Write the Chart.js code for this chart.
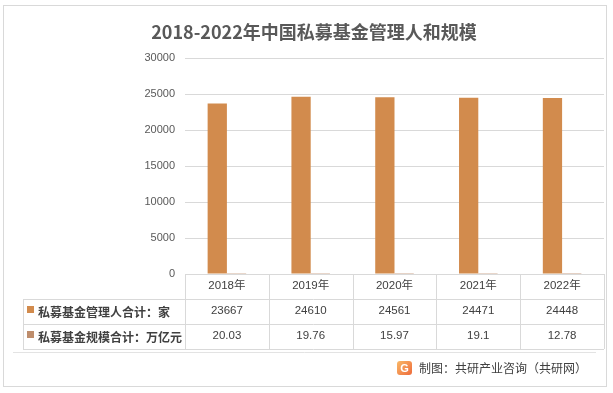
<!DOCTYPE html>
<html>
<head>
<meta charset="utf-8">
<script src="https://cdn.jsdelivr.net/npm/chart.js@4"></script>
<style>
    body { margin: 0; background: #fff; }
    canvas { display: block; }
</style>
</head>
<body>
<canvas id="chart" width="613" height="393"></canvas>
<script>
const years = ["2018年", "2019年", "2020年", "2021年", "2022年"];
const managers = [23667, 24610, 24561, 24471, 24448];
const scale = [20.03, 19.76, 15.97, 19.1, 12.78];
const seriesNames = ["私募基金管理人合计：家", "私募基金规模合计：万亿元"];
const seriesColors = ["#D28B4D", "#BE8D6C"];
const yTicks = [0, 5000, 10000, 15000, 20000, 25000, 30000];

const CJK = '"Noto Sans CJK SC", sans-serif';
const NUM = '"Liberation Sans", "Noto Sans CJK SC", sans-serif';

// data table under the plot + frame + footer
const tablePlugin = {
    id: "dataTable",
    afterDraw(chart) {
        const ctx = chart.ctx;
        const area = chart.chartArea;
        const x = chart.scales.x;
        const n = years.length;
        const w = (area.right - area.left) / n;
        const rows = [area.bottom, area.bottom + 24.5, area.bottom + 49.5, area.bottom + 75];
        const tableLeft = 23;

        ctx.save();
        ctx.strokeStyle = "#d9d9d9";
        ctx.lineWidth = 1;
        ctx.beginPath();
        ctx.moveTo(area.left, rows[0] + 0.5);
        ctx.lineTo(area.right, rows[0] + 0.5);
        for (let r = 1; r < rows.length; r++) {
            ctx.moveTo(tableLeft, Math.round(rows[r]) + 0.5);
            ctx.lineTo(area.right, Math.round(rows[r]) + 0.5);
        }
        for (let i = 0; i <= n; i++) {
            const cx = Math.round(area.left + i * w) + 0.5;
            ctx.moveTo(cx, rows[0]);
            ctx.lineTo(cx, rows[3]);
        }
        ctx.moveTo(tableLeft + 0.5, Math.round(rows[1]));
        ctx.lineTo(tableLeft + 0.5, Math.round(rows[3]));
        ctx.stroke();

        // faint plot frame and outer border
        ctx.strokeStyle = "#e3e3e3";
        ctx.beginPath();
        ctx.moveTo(13, 352.5);
        ctx.lineTo(596, 352.5);
        ctx.stroke();
        ctx.strokeStyle = "#d9d9d9";
        ctx.strokeRect(3.5, 5.5, 603, 381);

        // header row: years
        ctx.fillStyle = "#404040";
        ctx.textAlign = "center";
        ctx.textBaseline = "middle";
        ctx.font = "11.5px " + NUM;
        years.forEach((y, i) => {
            ctx.fillText(y, x.getPixelForValue(i), (rows[0] + rows[1]) / 2);
        });

        // series rows
        [managers, scale].forEach((vals, r) => {
            const cy = (rows[r + 1] + rows[r + 2]) / 2;
            ctx.fillStyle = seriesColors[r];
            ctx.fillRect(27, Math.round(cy) - 5, 7, 7);
            ctx.fillStyle = "#404040";
            ctx.textAlign = "left";
            ctx.font = "bold 12px " + CJK;
            ctx.fillText(seriesNames[r], 38, cy + 1);
            ctx.textAlign = "center";
            ctx.font = "11.5px " + NUM;
            vals.forEach((v, i) => {
                ctx.fillText(String(v), x.getPixelForValue(i), cy);
            });
        });

        // footer logo + source
        const lx = 397, ly = 361;
        const grad = ctx.createLinearGradient(lx, ly, lx + 15, ly + 14);
        grad.addColorStop(0, "#F9B867");
        grad.addColorStop(1, "#EE6B3B");
        ctx.fillStyle = grad;
        ctx.beginPath();
        ctx.roundRect(lx, ly, 15, 14, 3);
        ctx.fill();
        ctx.fillStyle = "#fff";
        ctx.font = "bold 11px " + NUM;
        ctx.textAlign = "center";
        ctx.fillText("G", lx + 7.5, ly + 7.5);

        ctx.fillStyle = "#404040";
        ctx.textAlign = "left";
        ctx.font = "12px " + CJK;
        ctx.fillText("制图：共研产业咨询（共研网）", 419, 368);
        ctx.restore();
    }
};

new Chart(document.getElementById("chart"), {
    type: "bar",
    data: {
        labels: years,
        datasets: [
            {
                label: seriesNames[0],
                data: managers,
                backgroundColor: seriesColors[0],
                categoryPercentage: 0.46,
                barPercentage: 1,
            },
            {
                label: seriesNames[1],
                data: scale,
                backgroundColor: seriesColors[1],
                categoryPercentage: 0.46,
                barPercentage: 1,
            },
        ],
    },
    options: {
        responsive: false,
        animation: false,
        layout: { padding: { top: 0, left: 24, right: 9, bottom: 94 } },
        plugins: {
            legend: { display: false },
            tooltip: { enabled: false },
            title: {
                display: true,
                text: "2018-2022年中国私募基金管理人和规模",
                color: "#595959",
                font: { family: CJK, size: 18, weight: "bold", lineHeight: 1.2 },
                padding: { top: 21, bottom: 15.4 },
            },
        },
        scales: {
            x: {
                grid: { display: false, drawTicks: false },
                border: { display: false },
                ticks: { display: false },
                afterFit: (s) => { s.height = 25; },
            },
            y: {
                min: 0,
                max: 30000,
                afterBuildTicks: (s) => { s.ticks = yTicks.map((v) => ({ value: v })); },
                grid: { color: "#d9d9d9", drawTicks: false },
                border: { display: false },
                ticks: {
                    color: "#595959",
                    padding: 10,
                    font: { family: NUM, size: 11 },
                    callback: (v) => String(v),
                },
                afterFit: (s) => { s.width = 161; },
            },
        },
    },
    plugins: [tablePlugin],
});
</script>
</body>
</html>
